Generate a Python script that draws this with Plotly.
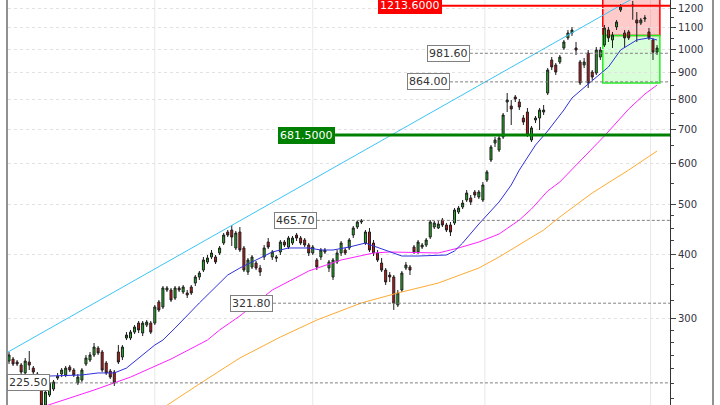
import math
import plotly.graph_objects as go

# ---------------- data (weekly OHLC) ----------------
opens = [248.6, 250.8, 247.5, 244.2, 235.7, 247.5, 240.9, 234.6, 228.4, 204.3,
         213.6, 219.4, 230.4, 234.6, 233.6, 242.0, 238.8, 225.4, 228.4, 245.3,
         249.7, 255.4, 263.4, 258.8, 246.4, 237.7, 236.7, 258.8, 253.1, 275.5,
         275.5, 282.9, 294.5, 281.7, 291.9, 294.5, 294.5, 323.5, 316.4, 341.3,
         341.3, 329.3, 344.4, 338.3, 336.8, 345.9, 352.1, 361.7, 373.1, 386.8,
         395.5, 395.5, 402.6, 420.9, 442.1, 446.1, 411.7, 442.1, 411.7, 369.8,
         378.2, 385.0, 376.5, 395.5, 422.8, 395.5, 395.5, 404.4, 422.8, 413.5,
         420.9, 436.2, 430.4, 426.6, 417.2, 402.6, 390.2, 395.5, 404.4, 376.5,
         361.7, 386.8, 402.6, 408.0, 411.7, 436.2, 452.1, 462.3, 420.9, 442.1,
         420.9, 402.6, 385.0, 373.1, 364.9, 361.7, 319.2, 341.3, 376.5, 378.2,
         413.5, 404.4, 413.5, 417.2, 432.3, 452.1, 450.1, 466.4, 456.1, 456.1,
         460.3, 483.4, 494.3, 510.0, 514.6, 528.5, 516.9, 510.0, 557.6, 609.6,
         657.6, 637.5, 675.6, 789.7, 775.8, 807.6, 789.7, 735.3, 755.2, 666.6,
         728.8, 735.3, 755.2, 822.1, 952.5, 931.5, 944.1, 1005.0, 1051.2, 1074.6,
         1005.0, 944.1, 931.5, 982.8, 902.8, 898.8, 965.3, 1018.5, 1089.0, 1041.5,
         1103.9, 1190.7, 1074.6, 1079.4, 1218.0, 1138.7, 1123.6, 1144.0, 1079.4, 1041.5,
         986.5]
highs = [258.8, 253.1, 249.7, 246.4, 252.0, 260.0, 243.1, 236.7, 230.4, 218.4,
         227.4, 228.4, 235.7, 240.9, 243.1, 244.2, 240.9, 234.6, 240.9, 255.4,
         258.8, 269.4, 265.8, 261.1, 248.6, 239.9, 238.8, 267.0, 267.0, 282.9,
         285.5, 291.9, 297.2, 297.2, 298.5, 297.2, 319.2, 326.4, 347.4, 347.4,
         344.4, 347.4, 347.4, 349.0, 341.3, 349.0, 364.9, 371.5, 395.5, 399.0,
         408.0, 399.0, 415.4, 440.1, 446.1, 456.1, 444.1, 452.1, 415.4, 393.7,
         399.0, 388.5, 381.6, 417.2, 430.4, 408.0, 399.0, 426.6, 426.6, 434.3,
         434.3, 440.1, 434.3, 430.4, 420.9, 417.2, 393.7, 411.7, 411.7, 390.2,
         393.7, 408.0, 424.7, 411.7, 430.4, 454.1, 465.7, 468.5, 446.1, 450.1,
         426.6, 408.0, 393.7, 376.5, 369.8, 364.9, 341.3, 371.5, 386.8, 381.6,
         417.2, 426.6, 420.9, 430.4, 466.4, 464.4, 464.4, 470.6, 460.3, 462.3,
         492.0, 496.5, 510.0, 533.2, 521.5, 533.2, 533.2, 552.7, 583.0, 651.8,
         675.6, 681.6, 751.9, 822.1, 796.8, 814.8, 800.4, 745.2, 768.9, 709.5,
         741.9, 768.9, 779.2, 919.0, 965.3, 939.8, 974.0, 1041.5, 1089.0, 1103.9,
         1032.3, 952.5, 960.9, 996.0, 910.9, 1009.4, 1009.4, 1113.6, 1103.9, 1079.4,
         1138.7, 1222.9, 1089.0, 1089.0, 1240.0, 1180.0, 1149.0, 1164.0, 1098.9, 1051.2,
         1018.5]
lows = [245.3, 243.1, 243.1, 234.6, 232.5, 238.8, 234.6, 227.4, 199.8, 201.6,
        211.7, 217.4, 228.4, 231.4, 231.4, 236.7, 231.4, 223.4, 226.4, 243.1,
        247.5, 253.1, 255.4, 236.7, 233.6, 229.4, 222.4, 245.3, 249.7, 273.0,
        273.0, 280.4, 281.7, 277.9, 289.3, 280.4, 291.9, 309.4, 313.6, 338.3,
        323.5, 326.4, 338.3, 335.3, 329.3, 333.8, 347.4, 356.9, 369.8, 383.3,
        392.0, 383.3, 399.0, 417.2, 432.3, 415.4, 408.0, 404.4, 369.8, 364.9,
        374.8, 373.1, 363.3, 390.2, 409.8, 390.2, 386.8, 399.0, 413.5, 409.8,
        417.2, 424.7, 417.2, 413.5, 397.2, 399.0, 373.1, 390.2, 400.8, 369.8,
        356.9, 383.3, 397.2, 399.0, 408.0, 430.4, 448.1, 458.2, 417.2, 404.4,
        397.2, 386.8, 369.8, 349.0, 353.7, 312.2, 316.4, 338.3, 373.1, 364.9,
        400.8, 400.8, 409.8, 413.5, 428.5, 448.1, 448.1, 452.1, 442.1, 434.3,
        456.1, 479.1, 489.9, 505.5, 498.7, 514.6, 512.3, 505.5, 552.7, 604.2,
        646.1, 631.9, 669.6, 755.2, 712.7, 789.7, 762.0, 712.7, 675.6, 660.7,
        719.1, 697.0, 745.2, 814.8, 910.9, 890.8, 935.7, 996.0, 1041.5, 1060.3,
        974.0, 851.9, 919.0, 840.6, 871.2, 890.8, 952.5, 1009.4, 1032.3, 1005.0,
        1089.0, 1180.1, 1005.0, 1041.5, 1140.0, 1032.3, 1113.6, 1128.6, 1041.5, 952.5,
        974.0]
closes = [255.4, 245.3, 245.3, 236.7, 248.6, 244.2, 236.7, 229.4, 204.3, 216.5,
          225.4, 226.4, 232.5, 238.8, 240.9, 238.8, 233.6, 231.4, 238.8, 252.0,
          255.4, 264.6, 257.7, 238.8, 235.7, 231.4, 225.5, 247.5, 264.6, 279.2,
          282.9, 289.3, 285.5, 294.5, 295.8, 282.9, 316.4, 312.2, 344.4, 344.4,
          326.4, 344.4, 341.3, 345.9, 333.8, 336.8, 361.7, 368.2, 390.2, 393.7,
          402.6, 386.8, 411.7, 436.2, 436.2, 432.3, 440.1, 408.0, 373.1, 390.2,
          395.5, 376.5, 369.8, 411.7, 413.5, 404.4, 393.7, 422.8, 417.2, 430.4,
          430.4, 430.4, 420.9, 417.2, 402.6, 413.5, 378.2, 408.0, 408.0, 386.8,
          390.2, 402.6, 420.9, 402.6, 426.6, 450.1, 462.3, 464.4, 442.1, 408.0,
          402.6, 390.2, 373.1, 353.7, 361.7, 321.8, 336.8, 368.2, 381.6, 373.1,
          404.4, 422.8, 417.2, 426.6, 462.3, 460.3, 458.2, 456.1, 446.1, 442.1,
          487.7, 492.0, 503.2, 526.2, 505.5, 521.5, 528.5, 545.3, 577.9, 646.1,
          666.6, 672.6, 745.2, 796.8, 765.4, 800.4, 772.3, 722.3, 681.6, 703.3,
          735.3, 762.0, 762.0, 910.9, 923.3, 902.8, 965.3, 1032.3, 1074.6, 1089.0,
          996.0, 859.5, 944.1, 859.5, 883.0, 996.0, 996.0, 1098.9, 1051.2, 1065.0,
          1128.6, 1206.7, 1051.2, 1051.2, 1213.6, 1123.6, 1138.7, 1149.0, 1051.2, 986.5,
          1005.0]
weeks = list(range(len(opens)))

# moving averages
fast_ma_week = [0, 5, 10, 18, 22, 26, 29, 32, 36, 38, 41, 47, 54, 57, 60, 62, 65, 69, 74, 77,
                80, 84, 88, 90, 94, 97, 101, 106, 108, 110, 112, 116, 121, 124, 126, 130, 133,
                137, 139, 143, 148, 151, 155, 158, 160]
fast_ma = [219.4, 226.4, 232.5, 233.6, 235.7, 235.7, 240.9, 252.0, 267.0, 273.0, 288.0, 322.1,
           364.9, 376.5, 386.8, 393.7, 404.4, 411.7, 411.7, 408.0, 408.0, 413.5, 420.9, 415.4,
           404.4, 397.2, 397.2, 399.0, 399.0, 406.2, 420.9, 458.2, 505.5, 545.3, 583.0, 651.8,
           693.9, 762.0, 804.0, 855.7, 923.3, 996.0, 1041.5, 1051.2, 1041.5]
mid_ma_week = [5, 9, 21, 30, 40, 49, 52, 57, 65, 74, 82, 90, 94, 106, 111, 116, 121, 126, 129,
               133, 136, 141, 147, 153, 157, 160]
mid_ma = [198.0, 203.4, 218.4, 231.4, 250.8, 273.0, 285.5, 304.0, 341.3, 371.5, 390.2, 402.6,
          404.4, 402.6, 411.7, 422.8, 438.2, 466.4, 489.9, 530.9, 552.7, 607.0, 678.6, 765.4,
          818.4, 851.9]
slow_ma_week = [35, 39, 47, 57, 67, 76, 87, 96, 106, 116, 121, 132, 136, 144, 153, 160]
slow_ma = [194.6, 204.3, 224.4, 252.0, 276.7, 298.5, 322.1, 336.8, 352.1, 376.5, 395.5, 446.1,
           472.8, 526.2, 583.0, 634.6]

trend_week = [-0.25, 160]
trend_val = [258.8, 1333.0]

level_vals = [225.50, 321.80, 465.70, 864.00, 981.60]
level_text = ["225.50", "321.80", "465.70", "864.00", "981.60"]
red_level = 1213.6
green_level = 681.5
zone_top, zone_mid, zone_bottom = 1300.0, 1063.0, 860.0

y_ticks = [200, 300, 400, 500, 600, 700, 800, 900, 1000, 1100, 1200]
y_minor = [210, 225, 240, 255, 270, 285, 325, 350, 375, 425, 450, 475, 550, 650, 750, 850,
           950, 1050, 1150]

# ---------------- layout helpers ----------------
X0, X1 = -0.247, 163.2
Y0, Y1 = 204.3, 1245.0
level_right = [10.1, 65.2, 76.0, 108.9, 113.8]
red_right = 106.9
green_right = 80.5
zone_x0, zone_x1 = 146.6, 160.7
vgrid = [36, 75, 117.5, 158.4]
FONT = "DejaVu Sans"

fig = go.Figure()

fig.add_trace(go.Candlestick(
    x=weeks, open=opens, high=highs, low=lows, close=closes,
    increasing=dict(fillcolor="#22b422", line=dict(color="#1e1e1e", width=1)),
    decreasing=dict(fillcolor="#d41414", line=dict(color="#1e1e1e", width=1)),
    whiskerwidth=0, showlegend=False, hoverinfo="skip"))

fig.add_trace(go.Scatter(x=trend_week, y=trend_val, mode="lines",
                         line=dict(color="#3cc4f6", width=1), showlegend=False))
fig.add_trace(go.Scatter(x=slow_ma_week, y=slow_ma, mode="lines",
                         line=dict(color="#ffaa33", width=1), showlegend=False))
fig.add_trace(go.Scatter(x=mid_ma_week, y=mid_ma, mode="lines",
                         line=dict(color="#ff22ff", width=1), showlegend=False))
fig.add_trace(go.Scatter(x=fast_ma_week, y=fast_ma, mode="lines",
                         line=dict(color="#3030dd", width=1), showlegend=False))

for v, r in zip(level_vals, level_right):
    fig.add_trace(go.Scatter(x=[r, X1], y=[v, v], mode="lines",
                             line=dict(color="#808080", width=1, dash="3px,2px"),
                             showlegend=False))
fig.add_trace(go.Scatter(x=[red_right, X1], y=[red_level, red_level], mode="lines",
                         line=dict(color="#ff0000", width=2), showlegend=False))
fig.add_trace(go.Scatter(x=[green_right, X1], y=[green_level, green_level], mode="lines",
                         line=dict(color="#008000", width=3), showlegend=False))

shapes = []
# zones
shapes.append(dict(type="rect", xref="x", yref="y", x0=zone_x0, x1=zone_x1, y0=zone_mid, y1=zone_top,
                   fillcolor="rgba(255,90,90,0.32)", line=dict(color="#ff0000", width=1.5), layer="below"))
shapes.append(dict(type="rect", xref="x", yref="y", x0=zone_x0, x1=zone_x1, y0=zone_bottom, y1=zone_mid,
                   fillcolor="rgba(120,255,120,0.28)", line=dict(color="#22ee22", width=1.5), layer="below"))
for gx in vgrid:
    shapes.append(dict(type="line", xref="x", yref="paper", x0=gx, x1=gx, y0=0, y1=1,
                       line=dict(color="#e8e8e8", width=1), layer="below"))
# frame lines
shapes.append(dict(type="line", xref="paper", yref="paper", x0=-1/662, x1=-1/662, y0=0, y1=1,
                   line=dict(color="#222222", width=1)))
shapes.append(dict(type="line", xref="paper", yref="paper", x0=705/662, x1=705/662, y0=0, y1=1,
                   line=dict(color="#222222", width=1)))

annotations = []
for v, r, t in zip(level_vals, level_right, level_text):
    annotations.append(dict(x=r, y=math.log10(v), xref="x", yref="y", text=t, showarrow=False,
                            xanchor="right", yanchor="middle", bgcolor="#ffffff",
                            bordercolor="#808080", borderwidth=1, borderpad=1,
                            font=dict(family=FONT, size=11, color="#333333")))
annotations.append(dict(x=red_right, y=math.log10(red_level), xref="x", yref="y",
                        text=f"{red_level:.4f}", showarrow=False, xanchor="right", yanchor="middle",
                        bgcolor="#ff0000", bordercolor="#ff0000", borderwidth=1, borderpad=1,
                        font=dict(family=FONT, size=11, color="#ffffff")))
annotations.append(dict(x=green_right, y=math.log10(green_level), xref="x", yref="y",
                        text=f"{green_level:.4f}", showarrow=False, xanchor="right", yanchor="middle",
                        bgcolor="#008000", bordercolor="#008000", borderwidth=1, borderpad=1,
                        font=dict(family=FONT, size=11, color="#ffffff")))

fig.update_layout(
    width=720, height=405,
    margin=dict(l=8, r=50, t=0, b=0),
    paper_bgcolor="#ffffff", plot_bgcolor="#ffffff",
    showlegend=False,
    shapes=shapes, annotations=annotations,
    xaxis=dict(range=[X0, X1], showgrid=False, zeroline=False, showticklabels=False,
               showline=False, ticks="", rangeslider=dict(visible=False), fixedrange=True),
    yaxis=dict(type="log", range=[math.log10(Y0), math.log10(Y1)], side="right",
               tickvals=y_ticks, ticktext=[str(v) for v in y_ticks],
               ticks="outside", ticklen=5, tickcolor="#444444",
               showline=True, linecolor="#333333", linewidth=1,
               showgrid=True, gridcolor="#e2e2e2", griddash="dot", zeroline=False,
               tickfont=dict(family=FONT, size=10, color="#333344"),
               minor=dict(tickvals=y_minor, ticks="outside", ticklen=3, tickcolor="#444444",
                          showgrid=False), fixedrange=True),
)

fig.write_html("out.html", config={"displayModeBar": False, "staticPlot": True},
               post_script="document.body.style.margin='0px';")
